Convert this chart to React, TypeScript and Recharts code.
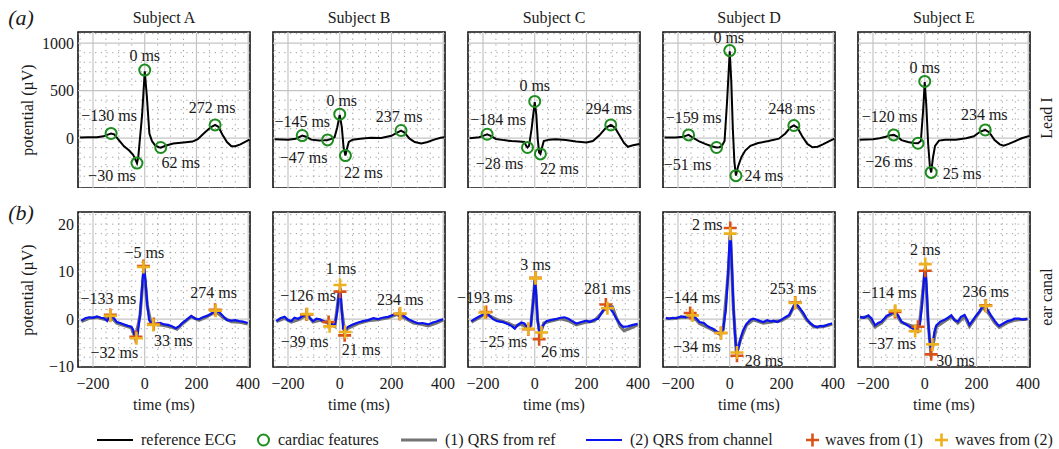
import React from 'react';
import { ComposedChart, Line, Scatter, XAxis, YAxis, ReferenceLine, ReferenceArea } from 'recharts';

type Pt = [number, number];

const subjects = ['Subject A', 'Subject B', 'Subject C', 'Subject D', 'Subject E'];

// lead I reference ECG: [time ms, potential µV]
const leadA: Pt[] = [[-250, 8], [-220, 10], [-185, 10], [-160, 20], [-140, 40], [-130, 50], [-118, 40], [-100, -20], [-80, -85], [-60, -130], [-45, -175], [-35, -230], [-30, -262], [-25, -200], [-10, 250], [0, 705], [8, 450], [18, 50], [28, -30], [40, -75], [55, -95], [62, -100], [80, -80], [110, -55], [150, -45], [185, -35], [205, -10], [230, 55], [255, 115], [272, 140], [285, 120], [300, 40], [318, -40], [335, -85], [350, -85], [370, -65], [390, -35], [405, -15]];
const leadB: Pt[] = [[-252, -10], [-200, -15], [-170, -5], [-155, 15], [-145, 28], [-130, 15], [-110, -15], [-80, -25], [-60, -22], [-47, -18], [-35, -10], [-20, 10], [-10, 110], [0, 245], [8, 120], [15, -100], [22, -183], [28, -110], [35, -40], [50, -15], [80, -5], [120, 5], [160, 3], [200, 25], [220, 55], [237, 80], [250, 60], [270, -5], [290, -40], [315, -55], [340, -40], [365, -15], [390, 5], [405, 10]];
const leadC: Pt[] = [[-252, 0], [-215, 10], [-195, 30], [-184, 42], [-170, 25], [-150, -8], [-120, -20], [-90, -30], [-60, -35], [-40, -40], [-33, -80], [-28, -98], [-22, -80], [-12, 100], [0, 380], [6, 250], [12, -20], [17, -150], [22, -165], [28, -100], [35, -30], [55, -15], [80, -10], [120, -20], [160, -35], [200, -45], [225, -30], [250, 30], [275, 110], [294, 140], [310, 110], [330, 20], [345, -50], [360, -90], [380, -75], [405, -60]];
const leadD: Pt[] = [[-252, 7], [-210, 7], [-180, 15], [-165, 30], [-159, 35], [-145, 10], [-120, -30], [-95, -60], [-70, -85], [-51, -98], [-40, -95], [-30, -80], [-20, -30], [-10, 400], [0, 915], [6, 600], [12, 100], [18, -250], [24, -394], [32, -300], [45, -200], [60, -130], [80, -80], [110, -50], [150, -30], [190, -5], [215, 50], [235, 115], [248, 134], [262, 110], [280, 20], [300, -60], [320, -95], [340, -90], [360, -65], [385, -30], [405, -5]];
const leadE: Pt[] = [[-252, -17], [-200, -10], [-175, 0], [-150, 15], [-135, 30], [-120, 35], [-105, 15], [-90, -20], [-65, -40], [-45, -50], [-26, -53], [-15, -30], [-6, 300], [0, 590], [6, 350], [13, -50], [20, -300], [25, -360], [32, -200], [40, -80], [55, -25], [80, -15], [120, -15], [160, 0], [190, 20], [215, 70], [234, 87], [250, 60], [270, -20], [290, -65], [305, -78], [325, -60], [350, -30], [375, 0], [405, 25]];

// ear canal, (2) QRS from channel (blue)
const chanA: Pt[] = [[-245, -0.3], [-230, 0.2], [-215, 0.4], [-200, 0.3], [-185, 0.6], [-170, 0.3], [-157, 0.2], [-145, -0.4], [-133, 0.8], [-120, 0.3], [-108, -0.6], [-95, -0.8], [-80, -1.1], [-65, -1.4], [-52, -1.6], [-45, -2.2], [-36, -4.0], [-28, -3.5], [-18, 1], [-8, 8.5], [-3, 11], [3, 8], [10, 3], [17, -0.2], [25, -0.8], [33, -1.2], [45, -0.9], [60, -0.8], [75, -1.1], [90, -1.2], [105, -1.5], [120, -1.9], [135, -1.4], [145, -0.8], [160, -0.2], [180, 0.7], [195, 0.1], [210, 0], [225, 0.4], [240, 0.7], [255, 1.1], [274, 1.8], [290, 1.4], [305, 0.5], [318, -0.2], [335, -0.3], [350, -0.2], [365, -0.4], [380, -0.5], [398, -0.8]];
const chanB: Pt[] = [[-245, -0.4], [-230, 0.2], [-213, 0.5], [-200, -0.2], [-187, -0.4], [-175, 0.3], [-161, 0.1], [-145, 0.6], [-126, 1.1], [-115, 0.2], [-103, -0.4], [-90, 0.1], [-77, 0], [-60, -0.5], [-45, -0.6], [-39, -1.2], [-30, -1.0], [-19, -1.3], [-10, 1.5], [-2, 6], [3, 6.2], [8, 2], [13, -2], [19, -2.5], [25, -2.0], [32, -1.6], [50, -1.1], [71, -0.7], [90, -0.4], [110, -0.2], [130, 0.2], [148, 0], [165, 0.3], [187, 0.5], [205, 0.9], [220, 1.2], [234, 1.2], [250, 0.6], [265, 0], [285, -0.5], [303, -0.9], [320, -0.8], [342, -1.1], [360, -0.7], [374, -0.5], [388, -0.2], [400, 0]];
const chanC: Pt[] = [[-245, -0.4], [-230, 0.1], [-213, 0.6], [-200, 0.9], [-193, 1.4], [-180, 1.0], [-161, 0], [-145, -0.4], [-123, -0.6], [-105, -1.0], [-90, -1.4], [-77, -2.0], [-65, -1.2], [-52, -0.7], [-40, -0.9], [-30, -1.6], [-25, -2.0], [-15, -1.2], [-5, 4], [1, 8.6], [6, 5], [11, 0], [16, -2.4], [22, -2.7], [30, -1.5], [45, -0.4], [60, -0.2], [80, 0], [100, 0.3], [115, 0.4], [130, 0.1], [145, -0.4], [161, -0.9], [180, -0.6], [200, -0.3], [213, -0.6], [230, -0.1], [245, 0.1], [260, 1.5], [271, 2.3], [290, 2.4], [305, 1.2], [316, 0.1], [330, -1.0], [342, -1.6], [360, -1.5], [380, -1.2], [398, -1.0]];
const chanD: Pt[] = [[-247, 0.3], [-235, 0.1], [-221, 0.3], [-205, 0.2], [-188, 0.6], [-170, 0.4], [-156, 0.8], [-144, 0.8], [-130, 0.2], [-117, -0.6], [-100, -0.8], [-90, -1.3], [-78, -1.7], [-65, -2.0], [-52, -2.5], [-40, -2.9], [-34, -2.9], [-25, -2.0], [-15, 2], [-6, 10], [0, 17.5], [3, 18], [8, 12], [14, 3], [20, -3], [26, -7.0], [32, -6.5], [42, -4.0], [52, -2.3], [65, -1.0], [80, -0.1], [91, 0.1], [105, -0.1], [118, -0.4], [130, -0.6], [145, -0.2], [160, -0.5], [169, -0.3], [185, -0.6], [200, -0.1], [215, 0.4], [230, 0.9], [240, 2.0], [253, 3.4], [265, 2.8], [275, 2.0], [286, 1.2], [298, 0], [312, -0.9], [325, -1.4], [338, -1.7], [350, -1.4], [364, -1.5], [380, -1.1], [396, -0.9]];
const chanE: Pt[] = [[-250, 0.5], [-235, 0.3], [-218, 0.8], [-205, 0.1], [-192, -1.3], [-180, -0.8], [-167, -0.5], [-155, 0.2], [-147, 0.7], [-130, 1.2], [-115, 1.6], [-103, 0.8], [-90, -0.5], [-75, -1.0], [-58, -1.6], [-45, -2.0], [-37, -2.4], [-28, -1.8], [-19, -1.2], [-10, 3], [-2, 9], [2, 11], [7, 7], [13, 0], [18, -4], [23, -5.8], [30, -5.3], [38, -2.5], [45, -1.3], [60, -0.5], [77, -0.1], [90, 0.3], [103, 0.8], [115, -0.2], [128, -0.5], [140, 0.5], [154, 0.9], [165, -0.2], [173, -1.2], [185, -0.3], [199, 0.8], [212, 1.6], [224, 2.8], [236, 2.6], [245, 1.8], [256, 0.8], [270, -0.3], [280, -1.0], [288, -1.4], [300, -1.0], [320, -0.4], [335, -0.2], [346, 0.1], [365, 0.1], [382, -0.1], [397, 0.1]];

// ear canal, (1) QRS from ref (gray)
const refA: Pt[] = [[-245, -0.5], [-215, 0.2], [-185, 0.4], [-157, 0], [-133, 0.6], [-108, -0.8], [-80, -1.3], [-52, -1.8], [-36, -4.0], [-18, 0.8], [-3, 10.8], [10, 2.8], [25, -1.0], [45, -1.1], [75, -1.3], [105, -1.7], [125, -2.1], [145, -1.0], [180, 0.5], [210, -0.2], [240, 0.5], [274, 1.6], [305, 0.3], [335, -0.5], [365, -0.6], [398, -1.0]];
const refB: Pt[] = [[-245, -0.5], [-213, 0.2], [-187, -0.6], [-161, -0.1], [-126, 0.9], [-103, -0.6], [-77, -0.2], [-45, -0.8], [-19, -1.5], [-2, 5.8], [8, 1.8], [19, -2.7], [32, -1.9], [71, -0.9], [110, -0.3], [148, -0.1], [187, 0.3], [220, 1.0], [250, 0.3], [285, -0.8], [320, -1.1], [342, -1.4], [374, -0.8], [400, -0.2]];
const refC: Pt[] = [[-245, -0.6], [-213, 0.4], [-193, 1.2], [-161, 0.3], [-140, -0.2], [-123, -0.5], [-100, -0.9], [-77, -1.5], [-52, -1.0], [-30, -1.8], [-15, -1.4], [1, 8.4], [11, -0.3], [22, -3.0], [35, -0.8], [60, -0.4], [100, 0.1], [130, -0.3], [161, -1.2], [200, -0.6], [230, -0.4], [260, 1.4], [280, 3.0], [300, 2.6], [316, 0.2], [330, -1.5], [345, -2.4], [365, -2.0], [398, -1.2]];
const refD: Pt[] = [[-247, 0.1], [-221, 0.1], [-188, 0.4], [-156, 0.5], [-130, -0.1], [-117, -0.9], [-90, -1.6], [-65, -2.3], [-40, -3.1], [-25, -2.2], [-6, 9.6], [3, 17.6], [14, 2.6], [26, -7.3], [42, -4.3], [65, -1.2], [91, -0.1], [130, -0.8], [169, -0.5], [200, -0.3], [230, 0.7], [253, 3.2], [275, 1.8], [298, -0.2], [325, -1.6], [350, -1.6], [380, -1.3], [396, -1.0]];
const refE: Pt[] = [[-250, 0.3], [-218, 0.5], [-192, -1.6], [-167, -0.8], [-147, 0.5], [-115, 1.4], [-90, -0.7], [-58, -1.3], [-45, -1.5], [-28, -1.4], [-19, -0.4], [-2, 8.8], [2, 10.8], [13, -0.5], [23, -6.8], [30, -6.0], [45, -1.6], [77, -0.4], [103, 0.5], [128, -0.8], [154, 0.6], [173, -1.5], [199, 0.5], [224, 2.5], [245, 1.4], [270, -0.7], [288, -1.7], [320, -0.7], [346, -0.2], [397, 0]];

// cardiac features on lead I
const featA: Pt[] = [[-130, 50], [-30, -262], [0, 717], [62, -98], [272, 140]];
const featB: Pt[] = [[-145, 28], [-47, -18], [0, 253], [22, -183], [237, 81]];
const featC: Pt[] = [[-184, 42], [-28, -98], [0, 387], [22, -165], [294, 140]];
const featD: Pt[] = [[-159, 35], [-51, -98], [0, 922], [24, -394], [248, 134]];
const featE: Pt[] = [[-120, 35], [-26, -53], [0, 598], [25, -360], [234, 87]];

// waves from (2) (labelled) and from (1)
const wave2A: Pt[] = [[-133, 0.7], [-32, -4.0], [-5, 11], [33, -1.2], [274, 1.8]];
const wave2B: Pt[] = [[-126, 1.1], [-39, -1.5], [1, 7.2], [21, -2.7], [234, 1.2]];
const wave2C: Pt[] = [[-193, 1.4], [-25, -2.0], [3, 8.6], [26, -2.8], [281, 2.3]];
const wave2D: Pt[] = [[-144, 0.8], [-34, -2.9], [2, 18], [28, -7.0], [253, 3.4]];
const wave2E: Pt[] = [[-114, 1.8], [-37, -2.5], [2, 11.6], [30, -5.3], [236, 2.8]];
const wave1A: Pt[] = [[-133, 0.9], [-34, -3.7], [-5, 11.2], [35, -1.0], [272, 2.0]];
const wave1B: Pt[] = [[-128, 1.0], [-43, -0.6], [1, 5.8], [19, -3.4], [232, 1.1]];
const wave1C: Pt[] = [[-188, 1.5], [-25, -2.1], [3, 8.7], [17, -4.2], [275, 3.1]];
const wave1D: Pt[] = [[-153, 1.3], [-34, -2.9], [2, 19.2], [28, -7.7], [253, 3.5]];
const wave1E: Pt[] = [[-115, 1.5], [-26, -1.6], [2, 10.2], [25, -7.4], [236, 2.9]];

// label placement (px offset of label centre from the marker)
const leadLabelPos = [
  [[-2, -18], [-25, 12], [0, -15], [20, 15], [-3, -17]],
  [[0, -14], [-24, 18], [2, -14], [18, 17], [-2, -14]],
  [[11, -15], [-28, 16], [0, -16], [19, 15], [-2, -16]],
  [[5, -17], [-29, 17], [-1, -13], [28, 0], [-2, -17]],
  [[-4, -18], [-29, 18], [0, -14], [31, 1], [-1, -15]],
];
const earLabelPos = [
  [[-2, -17], [-22, 14], [1, -14], [20, 16], [-2, -18]],
  [[1, -18], [-25, 15], [1, -16], [16, 17], [0, -14]],
  [[0, -15], [-25, 13], [0, -14], [19, 19], [0, -20]],
  [[0, -18], [-24, 14], [-23, -9], [27, 8], [-2, -15]],
  [[-6, -18], [-23, 12], [0, -15], [23, 16], [0, -14]],
];

const leadI = [leadA, leadB, leadC, leadD, leadE];
const chan = [chanA, chanB, chanC, chanD, chanE];
const ref = [refA, refB, refC, refD, refE];
const feats = [featA, featB, featC, featD, featE];
const wave2 = [wave2A, wave2B, wave2C, wave2D, wave2E];
const wave1 = [wave1A, wave1B, wave1C, wave1D, wave1E];

const X_DOMAIN: [number, number] = [-258, 407];
const TOP_DOMAIN: [number, number] = [-524, 1118];
const BOT_DOMAIN: [number, number] = [-10.06, 22.56];
const xTicks = [-200, 0, 200, 400];
const xMinor = [-250, -150, -100, -50, 50, 100, 150, 250, 300, 350];
const topTicks = [-500, 0, 500, 1000];
const topMajor = [0, 500, 1000];
const topMinor = [-400, -300, -200, -100, 100, 200, 300, 400, 600, 700, 800, 900, 1100];
const botTicks = [-10, 0, 10, 20];
const botMajor = [0];
const botMinor = [-8, -6, -4, -2, 2, 4, 6, 8, 10, 12, 14, 16, 18, 20, 22];

const PLOT_LEFT = [78, 273, 468, 663, 858];
const PLOT_W = 172;
const AXIS_W = 50;
const FONT = "'Liberation Serif', 'Times New Roman', serif";
const FS = 16;
const GREEN = '#1e8c1e';
const BLUE = '#0a14f0';
const GRAY = '#747474';
const RED = '#D95319';
const YELLOW = '#EDB120';

const fmt = (v: number) => (v < 0 ? `\u2212${Math.abs(v)}` : `${v}`);
const toRows = (pts: Pt[]) => pts.map(([t, v]) => ({ t, v }));
const toMarks = (pts: Pt[], pos?: number[][]) =>
  pts.map(([t, v], i) => ({ t, v, label: pos ? `${fmt(t)} ms` : '', dx: pos ? pos[i][0] : 0, dy: pos ? pos[i][1] : 0 }));

const MarkLabel = ({ cx, cy, p }: { cx: number; cy: number; p: any }) =>
  p.label ? (
    <text x={cx + p.dx} y={cy + p.dy} textAnchor="middle" dominantBaseline="central" fontSize={FS} fill="#1a1a1a" fontFamily={FONT}>
      {p.label}
    </text>
  ) : null;

const circleShape = (props: any) => (
  <g>
    <circle cx={props.cx} cy={props.cy} r={5.5} fill="none" stroke={GREEN} strokeWidth={2} />
    <MarkLabel cx={props.cx} cy={props.cy} p={props.payload} />
  </g>
);

const plusShape = (color: string) => (props: any) => (
  <g>
    <path d={`M${props.cx - 6.5},${props.cy}H${props.cx + 6.5}M${props.cx},${props.cy - 6.5}V${props.cy + 6.5}`} stroke={color} strokeWidth={2.6} />
    <MarkLabel cx={props.cx} cy={props.cy} p={props.payload} />
  </g>
);

function Panel({ top, col }: { top: boolean; col: number }) {
  const yDomain = top ? TOP_DOMAIN : BOT_DOMAIN;
  const yMajor = top ? topMajor : botMajor;
  const yMinor = top ? topMinor : botMinor;
  return (
    <div style={{ position: 'absolute', left: PLOT_LEFT[col] - AXIS_W, top: top ? 22 : 202 }}>
      <ComposedChart width={AXIS_W + PLOT_W + 10} height={top ? 166 : 189} margin={{ top: 10, right: 10, bottom: 0, left: 0 }}>
        <XAxis
          type="number"
          dataKey="t"
          domain={X_DOMAIN}
          ticks={xTicks}
          hide={top}
          height={24}
          tickSize={0}
          tickMargin={11}
          axisLine={false}
          tickFormatter={fmt}
          tick={{ fontSize: FS, fill: '#1a1a1a' }}
        />
        <YAxis
          type="number"
          dataKey="v"
          domain={yDomain}
          ticks={top ? topTicks : botTicks}
          width={AXIS_W}
          tickSize={0}
          tickMargin={4}
          axisLine={false}
          tickFormatter={fmt}
          tick={col === 0 ? { fontSize: FS, fill: '#1a1a1a' } : false}
        />
        {xMinor.map((x) => (
          <ReferenceLine key={`xm${x}`} x={x} stroke="#9a9a9a" strokeDasharray="1.2 4.5" />
        ))}
        {yMinor.map((y) => (
          <ReferenceLine key={`ym${y}`} y={y} stroke="#9a9a9a" strokeDasharray="1.2 4.5" />
        ))}
        {xTicks.map((x) => (
          <ReferenceLine key={`xM${x}`} x={x} stroke="#c4c4c4" strokeWidth={1.2} />
        ))}
        {yMajor.map((y) => (
          <ReferenceLine key={`yM${y}`} y={y} stroke="#c4c4c4" strokeWidth={1.2} />
        ))}
        <ReferenceArea x1={X_DOMAIN[0]} x2={X_DOMAIN[1]} y1={yDomain[0]} y2={yDomain[1]} fill="none" fillOpacity={0} stroke="#111" strokeWidth={1.6} />
        {top ? (
          <Line data={toRows(leadI[col])} dataKey="v" type="linear" stroke="#000" strokeWidth={2} dot={false} isAnimationActive={false} />
        ) : null}
        {top ? null : (
          <Line data={toRows(ref[col])} dataKey="v" type="linear" stroke={GRAY} strokeWidth={3.2} dot={false} isAnimationActive={false} />
        )}
        {top ? null : (
          <Line data={toRows(chan[col])} dataKey="v" type="linear" stroke={BLUE} strokeWidth={2.2} dot={false} isAnimationActive={false} />
        )}
        {top ? (
          <Scatter data={toMarks(feats[col], leadLabelPos[col])} dataKey="v" shape={circleShape} isAnimationActive={false} />
        ) : null}
        {top ? null : <Scatter data={toMarks(wave1[col])} dataKey="v" shape={plusShape(RED)} isAnimationActive={false} />}
        {top ? null : (
          <Scatter data={toMarks(wave2[col], earLabelPos[col])} dataKey="v" shape={plusShape(YELLOW)} isAnimationActive={false} />
        )}
      </ComposedChart>
    </div>
  );
}

const Txt = ({ x, y, size = FS, rotate = 0, italic = false, children }: any) => (
  <div
    style={{
      position: 'absolute',
      left: x,
      top: y,
      transform: `translate(-50%, -50%) rotate(${rotate}deg)`,
      whiteSpace: 'nowrap',
      fontSize: size,
      fontStyle: italic ? 'italic' : 'normal',
      lineHeight: 1,
      color: '#1a1a1a',
    }}
  >
    {children}
  </div>
);

const LegendIcon = ({ x, kind, color }: { x: number; kind: string; color: string }) => (
  <svg style={{ position: 'absolute', left: x, top: 432 }} width={38} height={16}>
    {kind === 'line' && <line x1={1} y1={8} x2={37} y2={8} stroke={color} strokeWidth={color === GRAY ? 3.2 : 2.2} />}
    {kind === 'circle' && <circle cx={6.5} cy={8} r={5.5} fill="none" stroke={color} strokeWidth={2} />}
    {kind === 'plus' && <path d="M1,8H14M7.5,1.5V14.5" stroke={color} strokeWidth={2.6} />}
  </svg>
);

const legendItems = [
  { x: 96, kind: 'line', color: '#000', label: 'reference ECG', tx: 141 },
  { x: 257, kind: 'circle', color: GREEN, label: 'cardiac features', tx: 278 },
  { x: 400, kind: 'line', color: GRAY, label: '(1) QRS from ref', tx: 445 },
  { x: 585, kind: 'line', color: BLUE, label: '(2) QRS from channel', tx: 630 },
  { x: 805, kind: 'plus', color: RED, label: 'waves from (1)', tx: 825 },
  { x: 934, kind: 'plus', color: YELLOW, label: 'waves from (2)', tx: 955 },
];

export default function App() {
  return (
    <div style={{ position: 'absolute', left: 0, top: 0, width: 1059, height: 449, background: '#fff', fontFamily: FONT, overflow: 'hidden' }}>
      <Txt x={21} y={18} size={22} italic>(a)</Txt>
      <Txt x={21} y={213} size={22} italic>(b)</Txt>
      {subjects.map((s, i) => (
        <Txt key={s} x={PLOT_LEFT[i] + PLOT_W / 2} y={18}>{s}</Txt>
      ))}
      {subjects.map((s, i) => (
        <Txt key={`t${s}`} x={PLOT_LEFT[i] + PLOT_W / 2} y={405}>time (ms)</Txt>
      ))}
      <Txt x={28} y={110} rotate={-90}>potential (µV)</Txt>
      <Txt x={28} y={290} rotate={-90}>potential (µV)</Txt>
      <Txt x={1047} y={118} rotate={-90}>Lead I</Txt>
      <Txt x={1047} y={297} rotate={-90}>ear canal</Txt>
      {subjects.map((s, i) => (
        <Panel key={`top${s}`} top col={i} />
      ))}
      {subjects.map((s, i) => (
        <Panel key={`bot${s}`} top={false} col={i} />
      ))}
      {legendItems.map((it) => (
        <React.Fragment key={it.label}>
          <LegendIcon x={it.x} kind={it.kind} color={it.color} />
          <div style={{ position: 'absolute', left: it.tx, top: 440, transform: 'translateY(-50%)', fontSize: FS, lineHeight: 1, whiteSpace: 'nowrap', color: '#1a1a1a' }}>
            {it.label}
          </div>
        </React.Fragment>
      ))}
    </div>
  );
}
